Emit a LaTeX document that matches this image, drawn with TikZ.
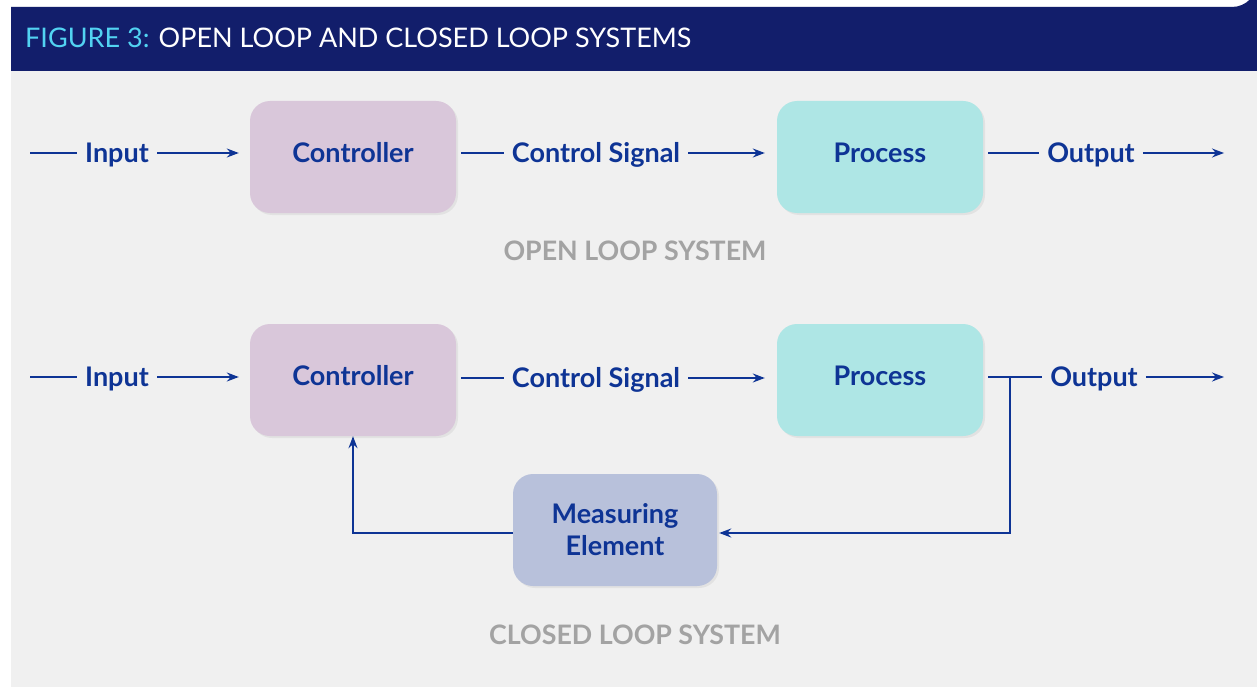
\documentclass[tikz,border=0pt]{standalone}
\usepackage{fontspec}
\setmainfont{Lato}
\usetikzlibrary{arrows.meta,shadows}
\definecolor{navy}{RGB}{18,30,107}
\definecolor{cyanhd}{RGB}{82,211,242}
\definecolor{txtblue}{RGB}{14,52,149}
\definecolor{ctrlfill}{RGB}{217,199,218}
\definecolor{procfill}{RGB}{174,230,229}
\definecolor{measfill}{RGB}{184,193,219}
\definecolor{panelbg}{RGB}{240,240,240}
\definecolor{graylbl}{RGB}{163,163,163}
\tikzset{
  box/.style={rounded corners=20pt, minimum width=206pt, minimum height=112pt, inner sep=0pt,
    font=\fontsize{27}{32}\selectfont\bfseries, text=txtblue, align=center,
    drop shadow={opacity=0.12, shadow xshift=2pt, shadow yshift=-2pt}},
  onebox/.style={box, text height=19pt, text depth=8pt},
  lbl/.style={font=\fontsize{27}{32}\selectfont\bfseries, text=txtblue, inner xsep=8pt, inner ysep=0pt,
    text height=19pt, text depth=0pt},
  sysl/.style={font=\fontsize{26.8}{31}\selectfont\bfseries, text=graylbl},
  conn/.style={draw=txtblue, line width=1.4pt},
  arr/.style={conn, -{Stealth[length=12pt,width=9pt,inset=4pt]}}
}
\begin{document}
\begin{tikzpicture}[x=1pt,y=-1pt]
\useasboundingbox (0,0) rectangle (1257,687);
\fill[white] (0,0) rectangle (1257,687);
% panel
\fill[panelbg] (11,7) -- (1232,7) arc[start angle=90,end angle=0,radius=25] -- (1257,687) -- (36,687) arc[start angle=270,end angle=180,radius=25] -- cycle;
\fill[navy] (11,7) -- (1232,7) arc[start angle=90,end angle=0,radius=25] -- (1257,71) -- (11,71) -- cycle;
\node[anchor=west, font=\fontsize{27}{32}\selectfont, inner sep=0pt] (title) at (25,38)
  {\textcolor{cyanhd}{FIGURE 3:} \textcolor{white}{OPEN LOOP AND CLOSED LOOP SYSTEMS}};

% open loop
\coordinate (s1) at (30,153);
\node[lbl] (in1) at (117,153) {Input};
\node[onebox, fill=ctrlfill] (c1) at (353,157) {Controller};
\node[lbl] (cs1) at (596,153) {Control Signal};
\node[onebox, fill=procfill] (p1) at (880,157) {Process};
\node[lbl] (o1) at (1091,153) {Output};
\coordinate (e1) at (1224,153);
\draw[conn] (s1) -- (in1.west);
\draw[arr, shorten >=11pt] (in1.east) -- (c1.west |- in1.east);
\draw[conn, shorten <=5pt] (c1.east |- cs1.west) -- (cs1.west);
\draw[arr, shorten >=12pt] (cs1.east) -- (p1.west |- cs1.east);
\draw[conn, shorten <=5pt] (p1.east |- o1.west) -- (o1.west);
\draw[arr] (o1.east) -- (e1);
\node[sysl] (ol) at (635,251) {OPEN LOOP SYSTEM};

% closed loop
\coordinate (s2) at (30,377);
\node[lbl] (in2) at (117,377) {Input};
\node[onebox, fill=ctrlfill] (c2) at (353,380) {Controller};
\node[lbl] (cs2) at (596,378) {Control Signal};
\node[onebox, fill=procfill] (p2) at (880,380) {Process};
\node[lbl] (o2) at (1094,377) {Output};
\coordinate (e2) at (1224,377);
\coordinate (br) at (1010,377);
\node[box, fill=measfill, minimum width=204pt] (m) at (615,530) {Measuring\\Element};
\draw[conn] (s2) -- (in2.west);
\draw[arr, shorten >=11pt] (in2.east) -- (c2.west |- in2.east);
\draw[conn, shorten <=5pt] (c2.east |- cs2.west) -- (cs2.west);
\draw[arr, shorten >=12pt] (cs2.east) -- (p2.west |- cs2.east);
\draw[conn, shorten <=5pt] (p2.east |- o2.west) -- (o2.west);
\draw[arr] (o2.east) -- (e2);
\draw[arr, shorten >=2pt] (br) |- ([yshift=-3pt]m.east);
\draw[arr] ([yshift=-3pt]m.west) -| (c2.south);
\node[sysl] (cl) at (635,635) {CLOSED LOOP SYSTEM};
\end{tikzpicture}
\end{document}
